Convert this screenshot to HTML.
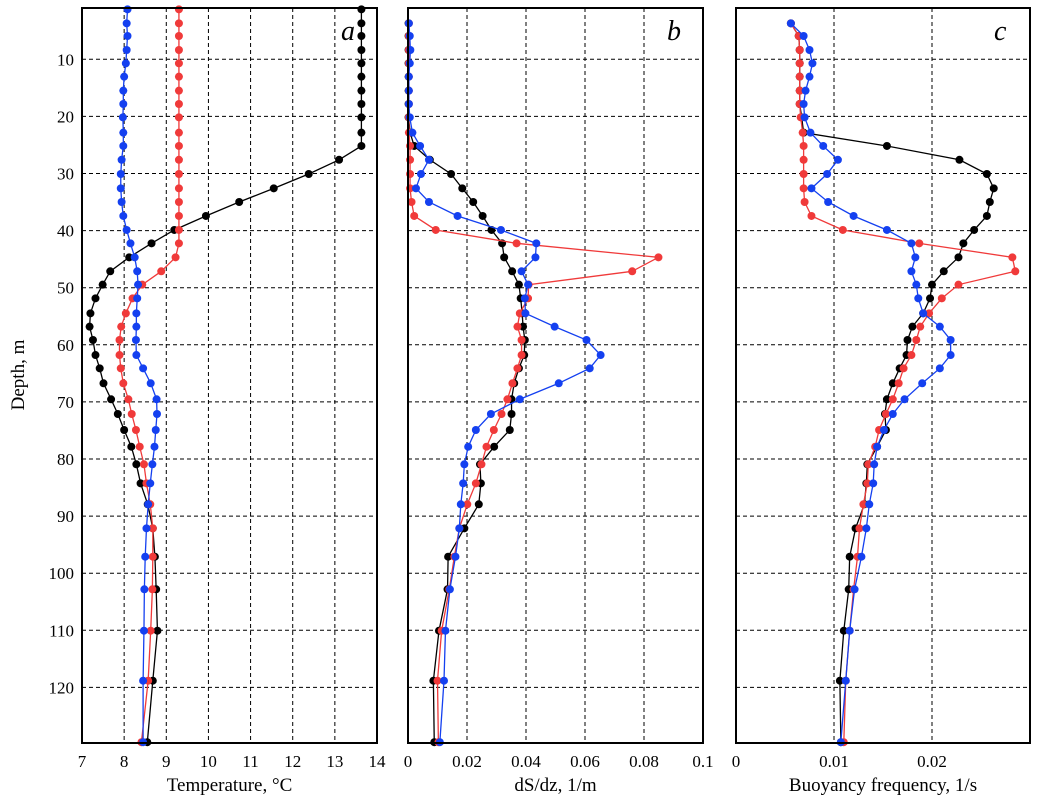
<!DOCTYPE html>
<html><head><meta charset="utf-8"><style>
html,body{margin:0;padding:0;background:#fff;}
svg{display:block;font-family:"Liberation Serif",serif;}
</style></head><body>
<svg id="chart" width="1044" height="808" viewBox="0 0 1044 808"></svg>
<script>
const depths=[1.25,3.70,5.92,8.37,10.71,13.04,15.49,17.83,20.16,22.85,25.18,27.6,30.09,32.6,34.99,37.44,39.89,42.23,44.68,47.13,49.47,51.86,54.49,56.82,59.16,61.79,64.12,66.74,69.54,72.12,74.92,77.85,80.93,84.26,87.93,92.14,97.11,102.82,110.07,118.83,129.6];
const tempBlack=[13.63,13.63,13.63,13.63,13.63,13.63,13.63,13.63,13.63,13.63,13.63,13.1,12.38,11.55,10.73,9.94,9.19,8.65,8.12,7.67,7.49,7.32,7.2,7.18,7.26,7.32,7.42,7.51,7.69,7.85,8.0,8.17,8.29,8.39,8.56,8.68,8.73,8.76,8.79,8.68,8.55];
const tempRed=[9.3,9.3,9.3,9.3,9.3,9.3,9.3,9.3,9.3,9.3,9.3,9.3,9.3,9.3,9.3,9.3,9.3,9.3,9.22,8.88,8.43,8.2,8.04,7.93,7.89,7.89,7.92,7.98,8.1,8.18,8.28,8.37,8.47,8.53,8.62,8.68,8.68,8.67,8.63,8.57,8.41];
const tempBlue=[8.08,8.06,8.08,8.06,8.04,8.0,7.98,7.98,7.97,7.98,7.98,7.94,7.92,7.92,7.94,7.98,8.06,8.15,8.25,8.31,8.33,8.31,8.29,8.29,8.28,8.29,8.45,8.63,8.77,8.78,8.75,8.72,8.67,8.62,8.57,8.53,8.5,8.48,8.47,8.45,8.45];
const dsBlack=[null,0.0002,0.0002,0.0002,0.0002,0.0002,0.0002,0.0002,0.0002,0.0007,0.0021,0.0074,0.0146,0.0184,0.0221,0.0253,0.0283,0.0319,0.0326,0.0353,0.0376,0.0382,0.0387,0.0390,0.0396,0.0394,0.0376,0.0360,0.0351,0.0351,0.0345,0.0292,0.0244,0.0247,0.0240,0.0191,0.0136,0.0134,0.0105,0.0086,0.0089];
const dsRed=[null,0.0003,0.0003,0.0003,0.0003,0.0003,0.0003,0.0003,0.0003,0.0003,0.0007,0.0007,0.0007,0.0007,0.0012,0.0021,0.0094,0.0368,0.0849,0.0760,0.0409,0.0407,0.0379,0.0371,0.0385,0.0385,0.0371,0.0354,0.0337,0.0317,0.0291,0.0266,0.0249,0.0230,0.0201,0.0174,0.0157,0.0140,0.0114,0.0100,0.0103];
const dsBlue=[null,0.0003,0.0006,0.0008,0.0006,0.0003,0.0003,0.0003,0.0006,0.0015,0.0041,0.0071,0.0044,0.0027,0.0071,0.0168,0.0315,0.0435,0.0432,0.0385,0.0407,0.0396,0.0398,0.0497,0.0605,0.0653,0.0616,0.0511,0.0379,0.0281,0.0230,0.0204,0.0191,0.0187,0.0179,0.0174,0.0161,0.0142,0.0127,0.0122,0.0108];
const nBlack=[null,0.0056,0.0064,0.0065,0.0065,0.0065,0.0065,0.0065,0.0067,0.0069,0.0154,0.0228,0.0256,0.0263,0.0259,0.0256,0.0243,0.0232,0.0227,0.0212,0.0200,0.0198,0.0191,0.0180,0.0175,0.0174,0.0167,0.0160,0.0154,0.0152,0.0153,0.0144,0.0134,0.0133,0.0131,0.0122,0.0116,0.0115,0.0110,0.0106,0.0107];
const nRed=[null,0.0056,0.0064,0.0065,0.0065,0.0065,0.0065,0.0065,0.0066,0.0068,0.0069,0.0069,0.0069,0.0069,0.0070,0.0077,0.0109,0.0187,0.0282,0.0285,0.0227,0.0210,0.0197,0.0188,0.0184,0.0179,0.0171,0.0166,0.0160,0.0153,0.0146,0.0142,0.0135,0.0134,0.0130,0.0126,0.0124,0.0120,0.0116,0.0112,0.0110];
const nBlue=[null,0.0056,0.0069,0.0075,0.0078,0.0075,0.0071,0.0069,0.0070,0.0076,0.0089,0.0104,0.0093,0.0077,0.0094,0.0120,0.0154,0.0179,0.0183,0.0179,0.0184,0.0186,0.0191,0.0208,0.0219,0.0219,0.0208,0.0190,0.0172,0.0160,0.0151,0.0144,0.0141,0.0140,0.0136,0.0133,0.0128,0.0121,0.0116,0.0112,0.0107];
const depthTicks=[10,20,30,40,50,60,70,80,90,100,110,120];
const tempTicks=[7,8,9,10,11,12,13,14];
const dsTicks=[0,0.02,0.04,0.06,0.08,0.1];
const dsTickLabels=["0","0.02","0.04","0.06","0.08","0.1"];
const nTicks=[0,0.01,0.02,0.03];
const nTickLabels=["0","0.01","0.02",""];

const NS="http://www.w3.org/2000/svg";
const svg=document.getElementById("chart");
const TOP=8,BOT=743;
const yScale=d=>2.2+5.71*d;
function mk(tag,attrs,parent){const e=document.createElementNS(NS,tag);for(const k in attrs)e.setAttribute(k,attrs[k]);(parent||svg).appendChild(e);return e;}
const COLORS={black:"#000",red:"#f03a3a",blue:"#1440f0"};

function panel(cfg){
  const g=mk("g",{});
  
  
  const xs=v=>cfg.x0+(v-cfg.min)/(cfg.max-cfg.min)*(cfg.x1-cfg.x0);
  // grid
  cfg.ticks.forEach((t,i)=>{
    const x=xs(t);
    if(x>cfg.x0+2&&x<cfg.x1-2){
      const l=mk("line",{x1:x,x2:x,y1:TOP,y2:BOT,stroke:"#000","stroke-width":1,"stroke-dasharray":"4,3"},g);
      
      
    }
    const t1=mk("text",{x:x,y:767,"font-size":17,"text-anchor":"middle"},g);
    
    
    t1.textContent=cfg.labels[i];
  });
  depthTicks.forEach(d=>{
    const y=yScale(d);
    const l=mk("line",{x1:cfg.x0,x2:cfg.x1,y1:y,y2:y,stroke:"#000","stroke-width":1,"stroke-dasharray":"4,3"},g);
    
    
  });
  // series
  cfg.series.forEach(s=>{
    const sg=mk("g",{},g);
    
    
    const pts=[];
    s.vals.forEach((v,i)=>{if(v!==null)pts.push([xs(v),yScale(depths[i])]);});
    const pl=mk("polyline",{points:pts.map(p=>p.join(",")).join(" "),fill:"none",stroke:COLORS[s.color],"stroke-width":1.3},sg);
    
    
    pts.forEach(p=>{
      const c=mk("circle",{cx:p[0],cy:p[1],r:4,fill:COLORS[s.color]},sg);
      
      
    });
  });
  const fr=mk("rect",{x:cfg.x0,y:TOP,width:cfg.x1-cfg.x0,height:BOT-TOP,fill:"none",stroke:"#000","stroke-width":2},g);
  
  
  const lt=mk("text",{x:cfg.x1-36,y:40,"font-size":28,"font-style":"italic"},g);
  
  
  lt.textContent=cfg.letter;
  const xt=mk("text",{x:(cfg.x0+cfg.x1)/2,y:791,"font-size":19,"text-anchor":"middle"},g);
  
  
  xt.textContent=cfg.title;
}

panel({name:"panel-a-temperature",x0:82,x1:377,min:7,max:14,ticks:tempTicks,labels:tempTicks.map(String),letter:"a",title:"Temperature, °C",
  series:[{name:"temp-black-series",color:"black",vals:tempBlack},{name:"temp-red-series",color:"red",vals:tempRed},{name:"temp-blue-series",color:"blue",vals:tempBlue}]});
panel({name:"panel-b-salinity-gradient",x0:408,x1:703,min:0,max:0.1,ticks:dsTicks,labels:dsTickLabels,letter:"b",title:"dS/dz, 1/m",
  series:[{name:"ds-black-series",color:"black",vals:dsBlack},{name:"ds-red-series",color:"red",vals:dsRed},{name:"ds-blue-series",color:"blue",vals:dsBlue}]});
panel({name:"panel-c-buoyancy",x0:736,x1:1030,min:0,max:0.03,ticks:nTicks,labels:nTickLabels,letter:"c",title:"Buoyancy frequency, 1/s",
  series:[{name:"n-black-series",color:"black",vals:nBlack},{name:"n-red-series",color:"red",vals:nRed},{name:"n-blue-series",color:"blue",vals:nBlue}]});

depthTicks.forEach(d=>{
  const t=mk("text",{x:74,y:yScale(d)+6,"font-size":17,"text-anchor":"end"});
  
  
  t.textContent=d;
});
const yt=mk("text",{x:0,y:0,"font-size":19,"text-anchor":"middle",transform:"translate(24,375) rotate(-90)"});


yt.textContent="Depth, m";
</script>
</body></html>
